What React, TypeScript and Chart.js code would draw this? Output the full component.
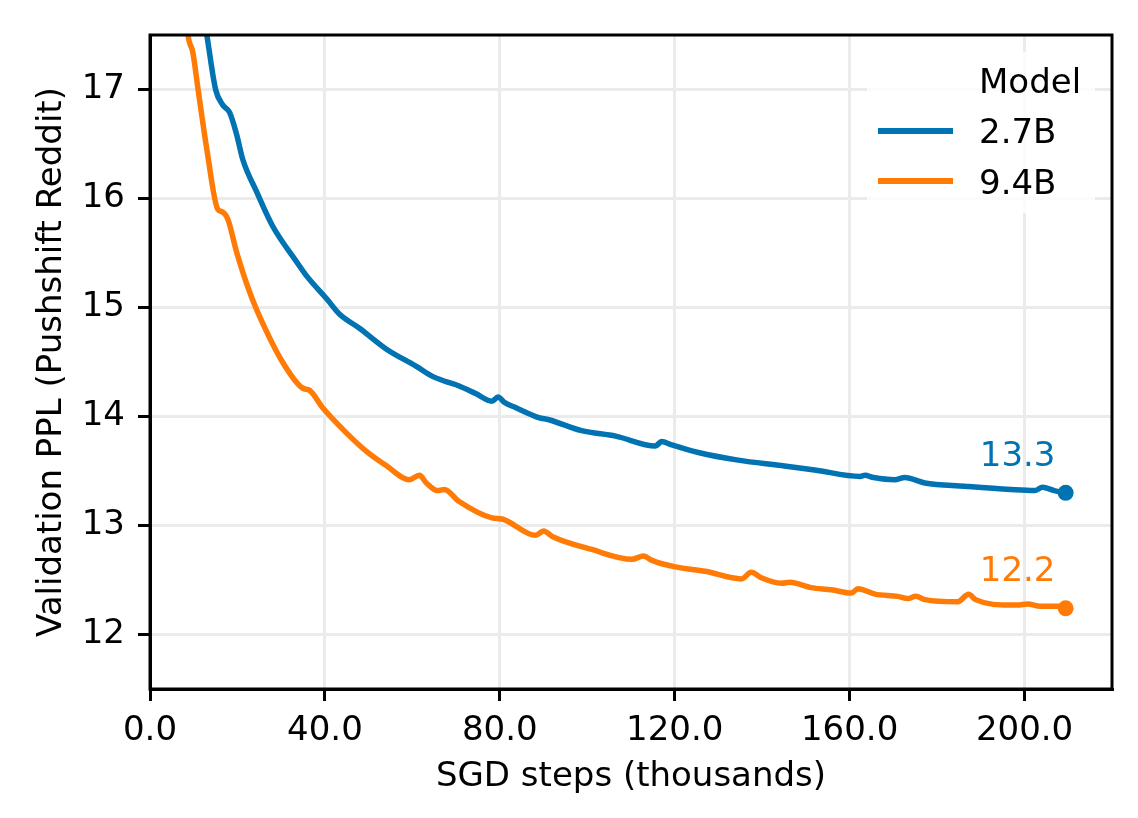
import React, { useEffect, useRef } from "react";
import { Chart, registerables } from "chart.js";

Chart.register(...registerables);

// ---------- data ----------
const seriesNames = ["2.7B", "9.4B"];

const steps27 = [
  12.0, 13.0, 15.0, 16.6, 18.2, 19.8, 21.2, 24.4, 28.0, 33.5, 35.8, 40.4, 43.3,
  47.9, 54.0, 60.9, 64.5, 67.7, 70.7, 74.5, 78.2, 79.6, 81.0, 83.7, 88.9, 91.2,
  98.7, 106.5, 115.6, 117.0, 119.3, 125.4, 134.5, 144.4, 152.0, 162.4, 163.5,
  165.5, 170.3, 172.6, 177.2, 186.3, 196.8, 202.3, 204.1, 206.8, 209.4,
];
const ppl27 = [
  17.75, 17.5, 17.0, 16.86, 16.79, 16.59, 16.36, 16.06, 15.75, 15.42, 15.29,
  15.08, 14.94, 14.81, 14.62, 14.46, 14.37, 14.32, 14.28, 14.21, 14.14, 14.18,
  14.13, 14.08, 13.99, 13.97, 13.87, 13.82, 13.73, 13.77, 13.74, 13.67, 13.6,
  13.55, 13.51, 13.45, 13.46, 13.44, 13.42, 13.44, 13.39, 13.36, 13.33, 13.32,
  13.35, 13.32, 13.3,
];

const steps94 = [
  8.0, 8.7, 9.8, 11.0, 13.0, 15.5, 16.4, 17.8, 19.8, 22.8, 25.5, 30.3, 34.9,
  36.5, 39.5, 44.9, 49.5, 54.0, 59.3, 61.6, 63.2, 65.7, 67.3, 70.7, 78.2, 80.5,
  88.2, 90.0, 92.0, 101.0, 110.2, 112.9, 114.8, 120.1, 127.0, 135.3, 137.5,
  139.8, 144.4, 146.3, 151.2, 155.8, 160.4, 161.9, 165.8, 171.0, 173.3, 175.1,
  177.2, 184.7, 187.2, 188.8, 196.8, 198.4, 200.7, 203.6, 208.2, 209.4,
];
const ppl94 = [
  17.85, 17.5, 17.34, 17.0, 16.45, 15.9, 15.88, 15.81, 15.51, 15.14, 14.88,
  14.5, 14.26, 14.24, 14.08, 13.85, 13.68, 13.55, 13.42, 13.46, 13.39, 13.32,
  13.33, 13.22, 13.07, 13.06, 12.91, 12.95, 12.9, 12.78, 12.69, 12.72, 12.68,
  12.62, 12.58, 12.51, 12.57, 12.52, 12.47, 12.48, 12.43, 12.41, 12.38, 12.42,
  12.37, 12.35, 12.33, 12.35, 12.32, 12.3, 12.37, 12.32, 12.27, 12.27, 12.28,
  12.26, 12.26, 12.24,
];

const xTicks = [0, 40, 80, 120, 160, 200];
const yTicks = [12, 13, 14, 15, 16, 17];
const xRange = [0, 220];
const yRange = [11.5, 17.5];

const legendTitle = "Model";
const xTitle = "SGD steps (thousands)";
const yTitle = "Validation PPL (Pushshift Reddit)";

// ---------- styles ----------
const COLORS = ["#0173b2", "#ff7b06"];
const FONT = "'DejaVu Sans', 'Liberation Sans', sans-serif";
const FS = 34;

const framePlugin = {
  id: "frame",
  afterDatasetsDraw(chart: any) {
    const { ctx, chartArea: a } = chart;
    ctx.save();
    ctx.strokeStyle = "#000";
    ctx.lineWidth = 3;
    ctx.strokeRect(a.left, a.top, a.right - a.left, a.bottom - a.top);
    ctx.restore();
  },
};

const endLabelPlugin = {
  id: "endLabels",
  afterDatasetsDraw(chart: any) {
    const { ctx } = chart;
    const xs = chart.scales.x;
    const ys = chart.scales.y;
    ctx.save();
    ctx.font = `${FS}px ${FONT}`;
    ctx.textAlign = "center";
    ctx.textBaseline = "alphabetic";
    chart.data.datasets.forEach((ds: any) => {
      const last = ds.data[ds.data.length - 1];
      const px = xs.getPixelForValue(last.x);
      const py = ys.getPixelForValue(last.y);
      ctx.fillStyle = ds.borderColor;
      ctx.fillText(last.y.toFixed(1), px - 48, py - 27);
    });
    ctx.restore();
  },
};

const legendPlugin = {
  id: "mplLegend",
  afterDraw(chart: any) {
    const { ctx, chartArea: a } = chart;
    const r = a.right;
    const t = a.top;
    ctx.save();
    ctx.fillStyle = "rgba(255,255,255,0.8)";
    ctx.fillRect(r - 245, t + 17, 228, 161);
    ctx.font = `${FS}px ${FONT}`;
    ctx.textAlign = "left";
    ctx.textBaseline = "alphabetic";
    ctx.fillStyle = "#000";
    ctx.fillText(legendTitle, r - 133, t + 57.5);
    chart.data.datasets.forEach((ds: any, i: number) => {
      const ly = t + 96 + i * 50;
      ctx.strokeStyle = ds.borderColor;
      ctx.lineWidth = 6;
      ctx.lineCap = "butt";
      ctx.beginPath();
      ctx.moveTo(r - 234, ly);
      ctx.lineTo(r - 159, ly);
      ctx.stroke();
      ctx.fillStyle = "#000";
      ctx.fillText(ds.label, r - 133, t + 108 + i * 51);
    });
    ctx.restore();
  },
};

function toPoints(xs: number[], ys: number[]) {
  return xs.map((x, i) => ({ x, y: ys[i] }));
}

export default function App() {
  const ref = useRef<HTMLCanvasElement | null>(null);

  useEffect(() => {
    const canvas = ref.current;
    if (!canvas) return;
    const allSeries = [
      toPoints(steps27, ppl27),
      toPoints(steps94, ppl94),
    ];
    const chart = new Chart(canvas, {
      type: "scatter",
      data: {
        datasets: allSeries.map((pts, i) => ({
          label: seriesNames[i],
          data: pts,
          showLine: true,
          borderColor: COLORS[i],
          backgroundColor: COLORS[i],
          borderWidth: 5.5,
          borderJoinStyle: "round",
          borderCapStyle: "round",
          cubicInterpolationMode: "monotone",
          pointRadius: (c: any) => (c.dataIndex === pts.length - 1 ? 8 : 0),
          pointHoverRadius: 0,
          pointBorderWidth: 0,
        })),
      },
      options: {
        responsive: false,
        animation: false,
        devicePixelRatio: 1,
        layout: { padding: { top: 35, right: 26, left: 0, bottom: 0 } },
        plugins: {
          legend: { display: false },
          tooltip: { enabled: false },
        },
        scales: {
          x: {
            type: "linear",
            min: xRange[0],
            max: xRange[1],
            afterBuildTicks: (s: any) => {
              s.ticks = xTicks.map((v) => ({ value: v }));
            },
            afterFit: (s: any) => {
              s.height = 129;
            },
            ticks: {
              color: "#000",
              font: { family: FONT, size: FS },
              padding: 10,
              maxRotation: 0,
              autoSkip: false,
              callback: (v: any) => Number(v).toFixed(1),
            },
            grid: {
              color: "#ebebeb",
              lineWidth: 3,
              tickColor: "#000",
              tickWidth: 3,
              tickLength: 12,
            },
            border: { display: true, color: "#000", width: 3 },
            title: {
              display: true,
              text: xTitle,
              color: "#000",
              font: { family: FONT, size: FS },
              padding: { top: 0, bottom: 20 },
            },
          },
          y: {
            type: "linear",
            min: yRange[0],
            max: yRange[1],
            afterBuildTicks: (s: any) => {
              s.ticks = yTicks.map((v) => ({ value: v }));
            },
            afterFit: (s: any) => {
              s.width = 150;
            },
            ticks: {
              color: "#000",
              font: { family: FONT, size: FS },
              padding: 13,
              autoSkip: false,
              callback: (v: any) => String(v),
            },
            grid: {
              color: "#ebebeb",
              lineWidth: 3,
              tickColor: "#000",
              tickWidth: 3,
              tickLength: 12,
            },
            border: { display: true, color: "#000", width: 3 },
            title: {
              display: true,
              text: yTitle,
              color: "#000",
              font: { family: FONT, size: FS },
              padding: { top: 32, bottom: 0 },
            },
          },
        },
      },
      plugins: [framePlugin, endLabelPlugin, legendPlugin],
    } as any);
    return () => chart.destroy();
  }, []);

  return (
    <div style={{ position: "fixed", left: 0, top: 0, width: 1138, height: 818, background: "#fff" }}>
      <canvas ref={ref} width={1138} height={818} style={{ display: "block" }} />
    </div>
  );
}
